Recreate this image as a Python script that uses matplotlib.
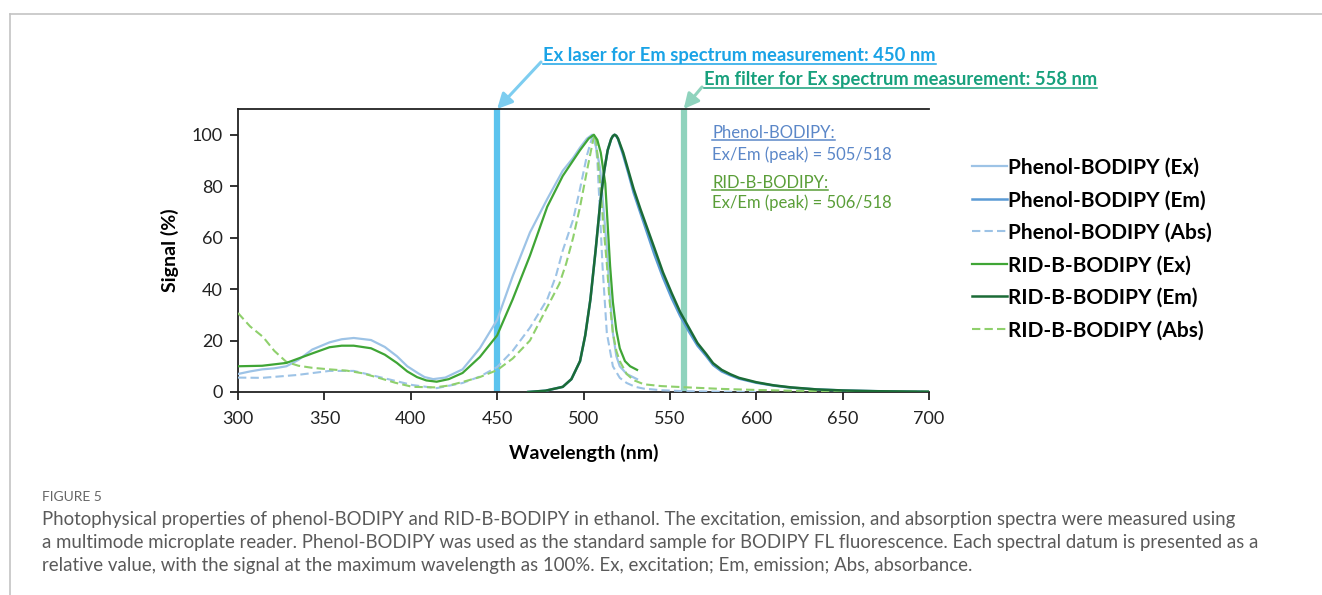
import matplotlib
matplotlib.use("Agg")
import matplotlib.pyplot as plt
from matplotlib.lines import Line2D

# ---------------- data ----------------
wl_ph_ex = [300, 307, 314, 321, 328, 335, 343, 353, 360, 367, 377, 385, 392, 398, 404, 408, 413, 420, 430, 440, 450,
            459, 469, 479, 488, 494, 498, 502, 505, 507, 509.6, 511.5, 513.6, 515, 517, 519, 521, 525, 531]
ph_ex = [7.0, 8.0, 8.8, 9.2, 10.0, 12.5, 16.5, 19.3, 20.5, 21.0, 20.2, 17.5, 13.9, 10.0, 7.4, 5.8, 5.0, 5.6, 8.8, 17.0, 28.0,
         45.0, 62.0, 75.0, 86.0, 91.0, 95.0, 98.5, 100.0, 96.0, 87.0, 72.0, 55.0, 40.0, 23.0, 14.0, 10.0, 7.0, 5.0]

wl_ph_em = [468, 478, 488, 493, 498, 501, 504, 507, 509.6, 512, 514, 516, 517, 518, 519, 520, 523, 526, 529, 533, 537,
            541, 546, 551, 556, 561, 566, 571, 575, 580, 585, 590, 600, 610, 620, 635, 650, 670, 700]
ph_em = [0.0, 0.5, 2.0, 5.0, 12.0, 22.0, 36.0, 55.0, 73.0, 86.0, 94.0, 98.3, 99.5, 100.0, 99.5, 98.3, 92.0, 85.0, 77.5,
         69.5, 61.5, 53.5, 44.5, 36.5, 29.5, 23.5, 18.0, 14.0, 10.5, 8.0, 6.5, 5.2, 3.6, 2.5, 1.7, 1.0, 0.6, 0.3, 0.1]

wl_ph_abs = [300, 314, 334, 353, 367, 382, 401, 415, 430, 440, 450, 459, 469, 479, 484, 488, 494, 498, 502, 505,
             506.5, 508, 509.5, 511, 513.5, 517, 521, 525, 530, 535, 545, 560, 580, 600]
ph_abs = [5.6, 5.5, 6.6, 8.2, 8.2, 5.8, 2.7, 1.5, 3.5, 6.0, 9.7, 16.0, 25.0, 36.0, 45.0, 55.0, 67.0, 79.0, 92.0, 99.0,
          100.0, 90.0, 70.0, 49.0, 23.0, 10.0, 5.5, 3.5, 2.0, 1.3, 0.7, 0.3, 0.1, 0.0]

wl_rid_ex = [300, 314, 328, 343, 353, 360, 367, 377, 385, 392, 398, 403.6, 409, 415, 422, 430, 440, 450, 459, 469,
             479, 488, 498, 503, 506, 508, 510, 512.6, 514, 515.4, 517, 519, 521, 524, 527, 531]
rid_ex = [10.0, 10.2, 11.3, 15.0, 17.4, 18.0, 18.0, 17.0, 14.5, 11.3, 8.0, 5.8, 4.5, 4.0, 5.0, 7.4, 13.6, 22.0, 36.0, 53.0,
          72.0, 84.0, 94.0, 98.5, 100.0, 98.0, 93.0, 81.0, 65.0, 49.0, 35.0, 24.0, 17.0, 12.0, 10.0, 8.6]

wl_rid_em = [468, 478, 488, 493, 498, 501, 504, 507, 509.6, 512, 514, 516, 517, 518, 519, 520, 523, 526, 529, 533, 537,
             541, 546, 551, 556, 561, 566, 571, 575, 580, 585, 590, 600, 610, 620, 635, 650, 670, 700]
rid_em = [0.0, 0.5, 2.0, 5.0, 12.0, 22.0, 36.0, 55.0, 73.0, 86.0, 94.0, 98.3, 99.5, 100.0, 99.6, 98.5, 93.0, 86.0, 79.0,
          71.0, 63.5, 56.0, 46.5, 38.5, 31.0, 25.0, 19.0, 14.8, 11.2, 8.6, 6.9, 5.5, 3.8, 2.6, 1.8, 1.0, 0.6, 0.3, 0.1]

wl_rid_abs = [300, 307, 314.5, 321, 328, 335, 343, 353, 363, 372, 382, 391, 401, 414, 422, 430, 440, 450, 459, 469,
              479, 486, 490, 494, 498, 502, 505.6, 507, 509.6, 511.5, 513.6, 515, 517, 519, 521, 525, 529, 535, 545,
              560, 580, 600, 620, 640, 660, 700]
rid_abs = [30.7, 25.5, 21.4, 16.0, 11.7, 10.2, 9.4, 8.8, 8.3, 7.3, 5.4, 3.6, 2.0, 1.8, 2.5, 3.9, 5.8, 8.5, 13.0, 20.0,
           33.0, 42.0, 50.0, 60.0, 72.0, 86.0, 98.0, 100.0, 81.0, 65.0, 49.0, 36.0, 23.0, 16.0, 12.0, 7.0, 4.6, 3.0, 2.3,
           1.8, 1.2, 0.8, 0.5, 0.3, 0.2, 0.1]

series_labels = ["Phenol-BODIPY (Ex)", "Phenol-BODIPY (Em)", "Phenol-BODIPY (Abs)",
                 "RID-B-BODIPY (Ex)", "RID-B-BODIPY (Em)", "RID-B-BODIPY (Abs)"]
laser_nm = 450
filter_nm = 558
x_ticks = [300, 350, 400, 450, 500, 550, 600, 650, 700]
y_ticks = [0, 20, 40, 60, 80, 100]

# ---------------- figure ----------------
W, H = 1322, 595
fig = plt.figure(figsize=(W / 100, H / 100), dpi=100)
FONT = "Lato"

def fx(px):
    return px / W

def fy(py):
    return 1 - py / H

# page frame lines
fig.add_artist(Line2D([fx(10), 1.0], [fy(14), fy(14)], color="#c4c4c4", lw=1.2))
fig.add_artist(Line2D([fx(10), fx(10)], [fy(14), 0.0], color="#c4c4c4", lw=1.2))

ax = fig.add_axes([fx(238), fy(392), fx(929) - fx(238), fy(109) - fy(392)])
ax.set_xlim(300, 700)
ax.set_ylim(0, 110)

c_ph_ex = "#9dc3e6"
c_ph_em = "#5b9bd5"
c_rid_ex = "#3fa535"
c_rid_em = "#1b6b36"
c_rid_abs = "#8fd06c"

ax.axvline(laser_nm, color="#5bc3ee", lw=4.5, zorder=1)
ax.axvline(filter_nm, color="#8fd3bd", lw=4.5, zorder=1)

h1, = ax.plot(wl_ph_ex, ph_ex, color=c_ph_ex, lw=1.6, label=series_labels[0], zorder=3)
h2, = ax.plot(wl_ph_em, ph_em, color=c_ph_em, lw=1.8, label=series_labels[1], zorder=3)
h3, = ax.plot(wl_ph_abs, ph_abs, color=c_ph_ex, lw=1.5, ls=(0, (4, 2)), label=series_labels[2], zorder=3)
h4, = ax.plot(wl_rid_ex, rid_ex, color=c_rid_ex, lw=1.6, label=series_labels[3], zorder=4)
h5, = ax.plot(wl_rid_em, rid_em, color=c_rid_em, lw=1.8, label=series_labels[4], zorder=4)
h6, = ax.plot(wl_rid_abs, rid_abs, color=c_rid_abs, lw=1.5, ls=(0, (4, 2)), label=series_labels[5], zorder=3)

ax.set_xticks(x_ticks)
ax.set_yticks(y_ticks)
ax.tick_params(direction="out", length=6, width=1.3, colors="#222222", labelsize=13)
ax.tick_params(axis="x", pad=8)
ax.tick_params(axis="y", pad=5)
for lab in ax.get_xticklabels() + ax.get_yticklabels():
    lab.set_family(FONT)
ax.spines["right"].set_visible(False)
for s in ["left", "bottom", "top"]:
    ax.spines[s].set_linewidth(1.3)
    ax.spines[s].set_color("#222222")
ax.set_xlabel("Wavelength (nm)", fontsize=14, fontweight="bold", family=FONT, labelpad=12)
ax.set_ylabel("Signal (%)", fontsize=14, fontweight="bold", family=FONT, labelpad=9)

leg = fig.legend(handles=[h1, h2, h3, h4, h5, h6], loc="upper left",
                 bbox_to_anchor=(fx(953), fy(139)), frameon=False,
                 prop={"family": FONT, "weight": "bold", "size": 15},
                 handlelength=1.68, handletextpad=0.08, labelspacing=0.6)

# annotation texts (to be underlined)
texts = []
t = fig.text(fx(543), fy(56), "Ex laser for Em spectrum measurement: 450 nm", color="#1aa3e6",
             fontsize=13.2, fontweight="bold", family=FONT, va="center", ha="left")
texts.append(t)
t = fig.text(fx(704), fy(80), "Em filter for Ex spectrum measurement: 558 nm", color="#17a07c",
             fontsize=13.2, fontweight="bold", family=FONT, va="center", ha="left")
texts.append(t)
t = fig.text(fx(712), fy(133), "Phenol-BODIPY:", color="#5b87c8", fontsize=12, family=FONT, va="center")
texts.append(t)
fig.text(fx(712), fy(155), "Ex/Em (peak) = 505/518", color="#5b87c8", fontsize=12, family=FONT, va="center")
t = fig.text(fx(712), fy(183), "RID-B-BODIPY:", color="#5a9e38", fontsize=12, family=FONT, va="center")
texts.append(t)
fig.text(fx(712), fy(203), "Ex/Em (peak) = 506/518", color="#5a9e38", fontsize=12, family=FONT, va="center")

# arrows from texts to the bars
ax.annotate("", xy=(laser_nm, 110), xycoords="data", xytext=(fx(541), fy(62)), textcoords="figure fraction",
            arrowprops=dict(arrowstyle="-|>,head_length=0.9,head_width=0.45", color="#7dcdf0", lw=2.2,
                            shrinkA=0, shrinkB=0), annotation_clip=False)
ax.annotate("", xy=(filter_nm, 110), xycoords="data", xytext=(fx(702), fy(87)), textcoords="figure fraction",
            arrowprops=dict(arrowstyle="-|>,head_length=0.9,head_width=0.45", color="#8fd3bd", lw=2.2,
                            shrinkA=0, shrinkB=0), annotation_clip=False)

# caption
fig.text(fx(42), fy(497), "FIGURE 5", color="#666666", fontsize=10, family=FONT, va="center")
caption = ["Photophysical properties of phenol-BODIPY and RID-B-BODIPY in ethanol. The excitation, emission, and absorption spectra were measured using",
           "a multimode microplate reader. Phenol-BODIPY was used as the standard sample for BODIPY FL fluorescence. Each spectral datum is presented as a",
           "relative value, with the signal at the maximum wavelength as 100%. Ex, excitation; Em, emission; Abs, absorbance."]
for i, line in enumerate(caption):
    fig.text(fx(42), fy(520 + 22.5 * i), line, color="#5a5a5a", fontsize=13.4, family=FONT,
             va="center")

# underline
fig.canvas.draw()
r = fig.canvas.get_renderer()
for t in texts:
    bb = t.get_window_extent(r)
    y = bb.y0 + 1
    fig.add_artist(Line2D([bb.x0 / W, bb.x1 / W], [y / H, y / H], color=t.get_color(), lw=1.1))

fig.savefig("out.png", dpi=100)
